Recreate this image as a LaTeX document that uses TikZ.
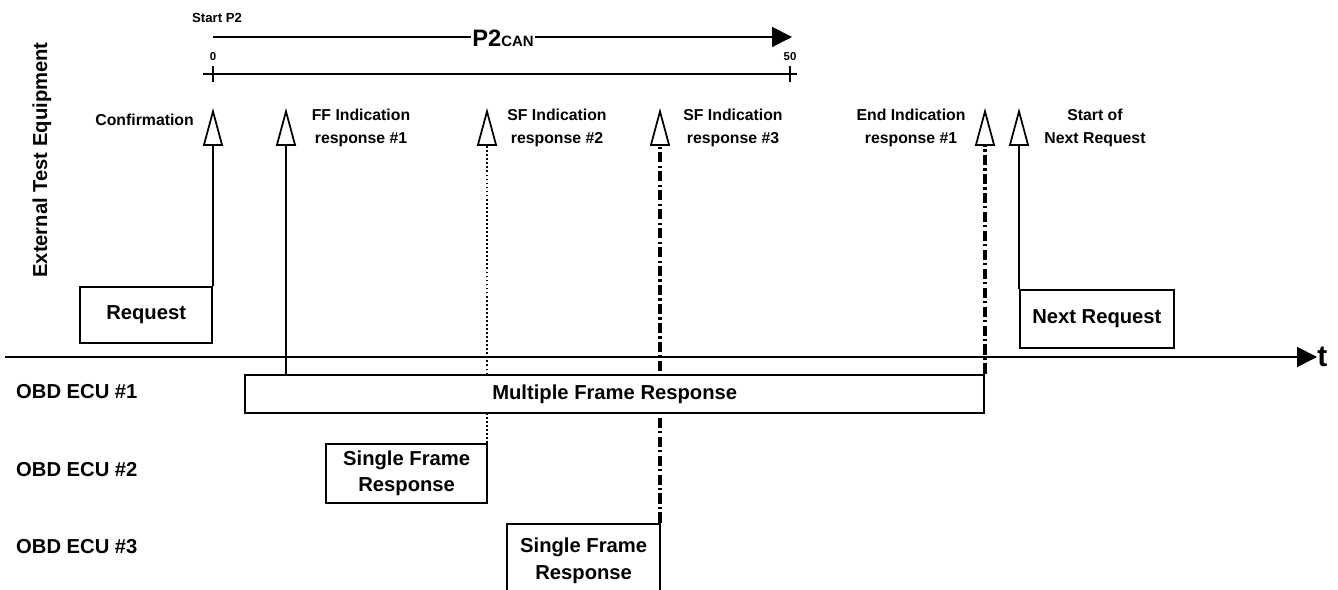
\documentclass[tikz,border=0pt]{standalone}
\usepackage{fontspec}
\setmainfont{Liberation Sans}
\usetikzlibrary{arrows.meta,positioning,backgrounds}

\tikzset{
  lbl/.style={font=\fontsize{9}{13}\selectfont\bfseries, align=center},
  lane/.style={font=\fontsize{11.5}{14}\selectfont\bfseries, anchor=west},
  frame/.style={draw, fill=white, line width=1pt, inner sep=0pt,
    font=\fontsize{11.5}{15}\selectfont\bfseries, align=center},
  sig/.style={line width=1pt, -{Triangle[open, length=0.76cm, width=0.4cm, line width=1pt]}},
  timeline/.style={line width=1pt, -{Triangle[length=0.4cm, width=0.4cm]}},
  dotline/.style={dash pattern=on 1pt off 1.3pt},
  dashdotline/.style={line width=2pt, dash pattern=on 6pt off 1.8pt on 1.2pt off 1.8pt},
}

\begin{document}
\begin{tikzpicture}[x=0.02cm, y=-0.02cm]
    \useasboundingbox (0,0) rectangle (1338,590);

    % lanes
    \node[lane, rotate=90, anchor=center] (ete) at (42,160) {External Test Equipment};
    \node[lane] (ecu1) at (10,392) {OBD ECU \#1};
    \node[lane] (ecu2) at (10,470) {OBD ECU \#2};
    \node[lane] (ecu3) at (10,547) {OBD ECU \#3};

    % P2 window
    \node[font=\fontsize{7.5}{9}\selectfont\bfseries, anchor=west] (startp) at (186,18) {Start P2};
    \coordinate (p2s) at (213,37);
    \coordinate (p2e) at (792,37);
    \draw[timeline] (p2s) -- (p2e);
    \node[fill=white, inner sep=1pt] (p2can) at (503,38)
        {\fontsize{13.5}{15}\selectfont\bfseries P2\fontsize{8.5}{10}\selectfont CAN};
    \coordinate (sc0) at (213,74);
    \coordinate (sc50) at (790,74);
    \draw[line width=1pt] ([xshift=-0.2cm]sc0) -- ([xshift=0.14cm]sc50);
    \draw[line width=1pt] ([yshift=-0.16cm]sc0) -- ([yshift=0.16cm]sc0);
    \draw[line width=1pt] ([yshift=-0.16cm]sc50) -- ([yshift=0.16cm]sc50);
    \node[font=\fontsize{6.5}{8}\selectfont\bfseries] (l0) at (213,57) {0};
    \node[font=\fontsize{6.5}{8}\selectfont\bfseries] (l50) at (790,57) {50};

    % time axis
    \coordinate (t0) at (5,357);
    \coordinate (t1) at (1317,357);
    \draw[timeline] (t0) -- (t1);
    \node[font=\fontsize{17}{19}\selectfont\bfseries, anchor=west, inner sep=0pt] (tlbl) at (t1) {t};

    % boxes
    \node[frame, minimum width=2.64cm, minimum height=1.12cm, anchor=north east] (req) at (213,286) {Request};
    \node[frame, minimum width=3.08cm, minimum height=1.16cm, anchor=north west] (nreq) at (1019,289) {Next Request};
    \node[frame, minimum width=14.78cm, minimum height=0.76cm, anchor=north east] (mfr) at (985,374) {Multiple Frame Response};
    \node[frame, minimum width=3.22cm, minimum height=1.18cm, anchor=north east] (sfr2) at (488,443) {Single Frame\\Response};
    \begin{scope}
        \clip (0,0) rectangle (1338,590);
        \node[frame, minimum width=3.06cm, minimum height=1.48cm, anchor=north east] (sfr3) at (661,523) {Single Frame\\Response};
    \end{scope}

    % indications
    \coordinate (cnf) at (213,108);
    \coordinate (ffi) at (286,108);
    \coordinate (sfi2) at (487,108);
    \coordinate (sfi3) at (660,108);
    \coordinate (endi) at (985,108);
    \coordinate (nxt) at (1019,108);
    \node[lbl, anchor=east] (cnfl) at (200,120) {Confirmation};
    \node[lbl] (ffl) at (361,128) {FF Indication\\response \#1};
    \node[lbl] (sf2l) at (557,128) {SF Indication\\response \#2};
    \node[lbl] (sf3l) at (733,128) {SF Indication\\response \#3};
    \node[lbl] (endl) at (911,128) {End Indication\\response \#1};
    \node[lbl] (nxtl) at (1095,128) {Start of\\Next Request};

    \begin{scope}[on background layer]
        \draw[sig] (req.north east) -- (cnf);
        \draw[sig] (mfr.north -| ffi) -- (ffi);
        \draw[sig, dotline] (sfr2.north -| sfi2) -- (sfi2);
        \draw[sig, dashdotline] (sfr3.north -| sfi3) -- (sfi3);
        \draw[sig, dashdotline] (mfr.north east) -- (endi);
        \draw[sig] (nreq.north west) -- (nxt);
    \end{scope}
\end{tikzpicture}
\end{document}
